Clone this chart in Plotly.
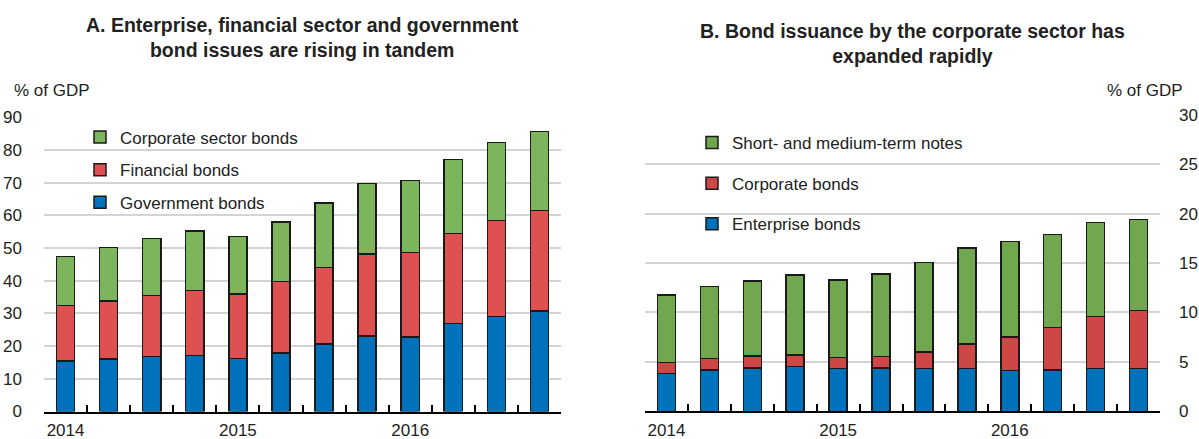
import plotly.graph_objects as go

# quarters 2014Q1 - 2016Q4
quarters = ["2014Q1", "2014Q2", "2014Q3", "2014Q4",
            "2015Q1", "2015Q2", "2015Q3", "2015Q4",
            "2016Q1", "2016Q2", "2016Q3", "2016Q4"]
tick_text = ["2014", "", "", "", "2015", "", "", "", "2016", "", "", ""]

# Panel A, % of GDP (stacked)
government = [15.5, 16.0, 16.9, 17.2, 16.2, 17.9, 20.6, 23.1, 22.8, 26.9, 29.1, 30.7]
financial = [16.9, 17.8, 18.6, 19.8, 19.7, 21.8, 23.4, 25.1, 25.9, 27.6, 29.3, 30.8]
corporate = [15.0, 16.4, 17.4, 18.2, 17.6, 18.2, 19.8, 21.5, 21.9, 22.6, 23.9, 24.1]

# Panel B, % of GDP (stacked)
enterprise = [3.8, 4.2, 4.4, 4.55, 4.35, 4.4, 4.35, 4.35, 4.15, 4.2, 4.35, 4.35]
corp_bonds = [1.15, 1.15, 1.2, 1.15, 1.1, 1.15, 1.65, 2.45, 3.35, 4.3, 5.25, 5.85]
notes = [6.8, 7.3, 7.6, 8.1, 7.85, 8.35, 9.05, 9.7, 9.7, 9.4, 9.5, 9.2]

FONT = "Liberation Sans"
TXT = "#222"
BORDER = dict(color="#1a1a1a", width=1.5)

fig = go.Figure()

# Panel A
fig.add_trace(go.Bar(x=quarters, y=government, name="Government bonds",
                     marker=dict(color="#0071bb", line=BORDER), legendrank=3,
                     xaxis="x", yaxis="y", legend="legend", legendgroup="a1"))
fig.add_trace(go.Bar(x=quarters, y=financial, name="Financial bonds",
                     marker=dict(color="#df5050", line=BORDER), legendrank=2,
                     xaxis="x", yaxis="y", legend="legend", legendgroup="a2"))
fig.add_trace(go.Bar(x=quarters, y=corporate, name="Corporate sector bonds",
                     marker=dict(color="#7cb55c", line=BORDER), legendrank=1,
                     xaxis="x", yaxis="y", legend="legend", legendgroup="a3"))

# Panel B
fig.add_trace(go.Bar(x=quarters, y=enterprise, name="Enterprise bonds",
                     marker=dict(color="#0071bb", line=BORDER), legendrank=3,
                     xaxis="x2", yaxis="y2", legend="legend2", legendgroup="b1"))
fig.add_trace(go.Bar(x=quarters, y=corp_bonds, name="Corporate bonds",
                     marker=dict(color="#cd4747", line=BORDER), legendrank=2,
                     xaxis="x2", yaxis="y2", legend="legend2", legendgroup="b2"))
fig.add_trace(go.Bar(x=quarters, y=notes, name="Short- and medium-term notes",
                     marker=dict(color="#71a84f", line=BORDER), legendrank=1,
                     xaxis="x2", yaxis="y2", legend="legend2", legendgroup="b3"))

xaxis_common = dict(
    type="category", tickson="boundaries", tickmode="array",
    tickvals=quarters, ticktext=tick_text, tickangle=0,
    ticks="inside", ticklen=7, tickwidth=1.5, tickcolor="black",
    showline=True, linecolor="black", linewidth=2,
    showgrid=False, zeroline=False, ticklabelstandoff=2,
    tickfont=dict(family=FONT, size=17, color=TXT),
    automargin=False,
)
yaxis_common = dict(
    showgrid=True, gridcolor="#d4d4d4", gridwidth=1.5,
    zeroline=False, showline=False, ticks="",
    tickfont=dict(family=FONT, size=17, color=TXT),
    automargin=False,
)

fig.update_layout(
    width=1199, height=439,
    margin=dict(l=0, r=0, t=0, b=0),
    paper_bgcolor="white", plot_bgcolor="white",
    barmode="stack", bargap=0.58,
    font=dict(family=FONT, size=17, color=TXT),
    xaxis=dict(domain=[44 / 1199, 561 / 1199], anchor="y", **xaxis_common),
    yaxis=dict(domain=[(439 - 411.5) / 439, (439 - 117.3) / 439], range=[0, 90],
               dtick=10, side="left", anchor="x", ticklabelstandoff=21, **yaxis_common),
    xaxis2=dict(domain=[645 / 1199, 1160 / 1199], anchor="y2", **xaxis_common),
    yaxis2=dict(domain=[(439 - 411.3) / 439, (439 - 114.8) / 439], range=[0, 30],
                dtick=5, side="right", anchor="x2", ticklabelstandoff=18, **yaxis_common),
    legend=dict(x=(121 - 41) / 1199, y=(439 - 119.5) / 439, xanchor="left", yanchor="top",
                traceorder="grouped", tracegroupgap=7.5,
                bgcolor="rgba(0,0,0,0)", font=dict(family=FONT, size=17, color=TXT)),
    legend2=dict(x=(733 - 41) / 1199, y=(439 - 125) / 439, xanchor="left", yanchor="top",
                 traceorder="grouped", tracegroupgap=15.5,
                 bgcolor="rgba(0,0,0,0)", font=dict(family=FONT, size=17, color=TXT)),
    annotations=[
        dict(text="<b>A. Enterprise, financial sector and government<br>bond issues are rising in tandem</b>",
             x=303 / 1199, y=1 - 37 / 439, xref="paper", yref="paper",
             xanchor="center", yanchor="middle",
             showarrow=False, font=dict(family=FONT, size=19.5, color=TXT)),
        dict(text="<b>B. Bond issuance by the corporate sector has<br>expanded rapidly</b>",
             x=912 / 1199, y=1 - 43 / 439, xref="paper", yref="paper",
             xanchor="center", yanchor="middle",
             showarrow=False, font=dict(family=FONT, size=19.5, color=TXT)),
        dict(text="% of GDP", x=12 / 1199, y=1 - 90 / 439, xref="paper", yref="paper",
             xanchor="left", yanchor="middle",
             showarrow=False, font=dict(family=FONT, size=17, color=TXT)),
        dict(text="% of GDP", x=1185 / 1199, y=1 - 90 / 439, xref="paper", yref="paper",
             xanchor="right", yanchor="middle",
             showarrow=False, font=dict(family=FONT, size=17, color=TXT)),
    ],
)

# drop the default 8px body margin so the figure fills the window
fig.write_html("out.html", config={"displayModeBar": False},
               post_script="document.body.style.margin = '0';")
